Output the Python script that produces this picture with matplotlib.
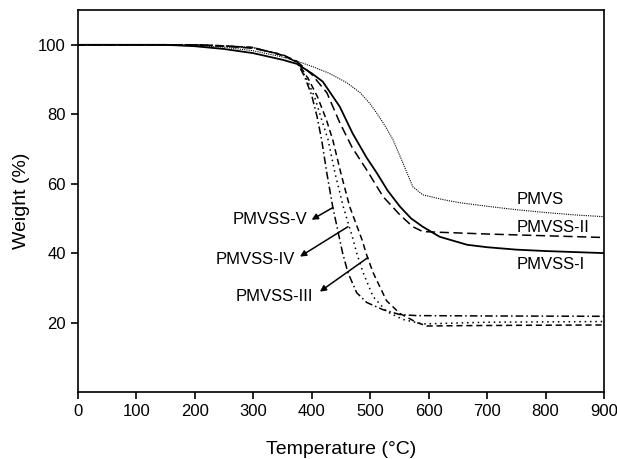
import matplotlib
matplotlib.use("Agg")
import matplotlib.pyplot as plt

plt.rcParams['font.family'] = ['Liberation Sans', 'DejaVu Sans']

# curvas TGA (temperatura em °C, massa em %)
pmvs_t = [0, 150, 200, 250, 300, 350, 380, 402, 430, 460, 483, 500, 511, 525, 539, 556, 573, 590, 625, 654, 700, 750, 800, 850, 900]
pmvs_w = [100, 100, 99.8, 99.3, 98.3, 96.5, 95.0, 93.7, 91.8, 89.1, 86.2, 83.0, 80.4, 76.8, 72.7, 66.0, 59.1, 56.8, 55.4, 54.5, 53.5, 52.5, 51.7, 51.0, 50.5]

pmvss1_t = [0, 150, 200, 250, 300, 350, 375, 400, 419, 448, 470, 494, 511, 530, 551, 570, 590, 619, 666, 700, 750, 800, 850, 900]
pmvss1_w = [100, 100, 99.6, 98.8, 97.6, 95.7, 94.5, 91.8, 89.4, 82.2, 74.5, 67.5, 63.2, 58.0, 53.4, 50.0, 47.6, 44.7, 42.4, 41.7, 41.0, 40.6, 40.3, 40.0]

pmvss2_t = [0, 150, 200, 250, 300, 350, 375, 400, 426, 448, 469, 494, 522, 551, 573, 590, 620, 700, 800, 900]
pmvss2_w = [100, 100, 100, 99.6, 99.0, 97.2, 95.2, 91.5, 86.2, 77.6, 70.5, 64.0, 56.3, 51.0, 47.6, 46.2, 46.0, 45.5, 45.0, 44.5]

pmvss3_t = [0, 150, 200, 250, 300, 350, 375, 395, 410, 425, 436, 450, 465, 486, 494, 505, 528, 551, 580, 597, 650, 750, 900]
pmvss3_w = [100, 100, 100, 99.7, 99.2, 97.0, 95.2, 90.0, 85.0, 78.5, 72.7, 63.0, 53.4, 43.9, 39.5, 34.4, 26.3, 22.6, 20.0, 19.0, 19.1, 19.2, 19.3]

pmvss4_t = [0, 150, 200, 250, 300, 350, 375, 392, 405, 417, 428, 440, 454, 471, 477, 488, 505, 528, 556, 590, 700, 900]
pmvss4_w = [100, 100, 100, 99.7, 99.2, 97.0, 95.0, 90.0, 85.0, 78.5, 72.7, 63.0, 53.4, 43.9, 40.0, 34.4, 27.5, 23.2, 20.9, 19.6, 20.1, 20.3]

pmvss5_t = [0, 150, 200, 250, 300, 350, 375, 388, 400, 409, 417, 426, 436, 448, 453, 462, 477, 494, 522, 551, 580, 700, 900]
pmvss5_w = [100, 100, 100, 99.7, 99.2, 97.0, 95.0, 90.8, 85.5, 79.5, 72.7, 63.0, 53.4, 43.9, 40.0, 34.4, 28.6, 25.8, 23.7, 22.3, 22.0, 21.9, 21.8]

fig = plt.figure(figsize=(6.17, 4.59), dpi=100)
ax = fig.add_axes([0.126, 0.146, 0.853, 0.832])

ax.plot(pmvs_t, pmvs_w, color='black', lw=0.8, linestyle=(0, (1, 1)))
ax.plot(pmvss1_t, pmvss1_w, color='black', lw=1.3, linestyle='-')
ax.plot(pmvss2_t, pmvss2_w, color='black', lw=1.1, linestyle=(0, (6, 3)))
ax.plot(pmvss3_t, pmvss3_w, color='black', lw=1.1, linestyle=(0, (4, 2.5)))
ax.plot(pmvss4_t, pmvss4_w, color='black', lw=1.1, linestyle=(0, (1, 2.5)))
ax.plot(pmvss5_t, pmvss5_w, color='black', lw=1.1, linestyle=(0, (5, 2, 1, 2)))

# rótulos à direita
ax.text(751, 55.4, 'PMVS', fontsize=12, va='center', ha='left')
ax.text(751, 47.3, 'PMVSS-II', fontsize=12, va='center', ha='left')
ax.text(751, 36.7, 'PMVSS-I', fontsize=12, va='center', ha='left')

# rótulos com setas
seta = dict(arrowstyle='-|>', color='black', lw=1.1, mutation_scale=9, shrinkA=0, shrinkB=0)
ax.text(392, 49.6, 'PMVSS-V', fontsize=12, va='center', ha='right')
ax.annotate('', xy=(400, 49.6), xytext=(436, 53.1), arrowprops=seta)
ax.text(371, 38.1, 'PMVSS-IV', fontsize=12, va='center', ha='right')
ax.annotate('', xy=(380, 39.0), xytext=(462, 47.6), arrowprops=seta)
ax.text(402, 27.5, 'PMVSS-III', fontsize=12, va='center', ha='right')
ax.annotate('', xy=(414, 28.9), xytext=(496, 38.7), arrowprops=seta)

ax.set_xlim(0, 900)
ax.set_ylim(0, 110)
ax.set_xticks(range(0, 901, 100))
ax.set_yticks([20, 40, 60, 80, 100])
ax.tick_params(direction='out', length=5, width=1.2, labelsize=12)
for s in ax.spines.values():
    s.set_linewidth(1.2)

ax.set_xlabel('Temperature (°C)', fontsize=14, labelpad=16)
ax.set_ylabel('Weight (%)', fontsize=14, labelpad=6)

fig.savefig('out.png', dpi=100)
